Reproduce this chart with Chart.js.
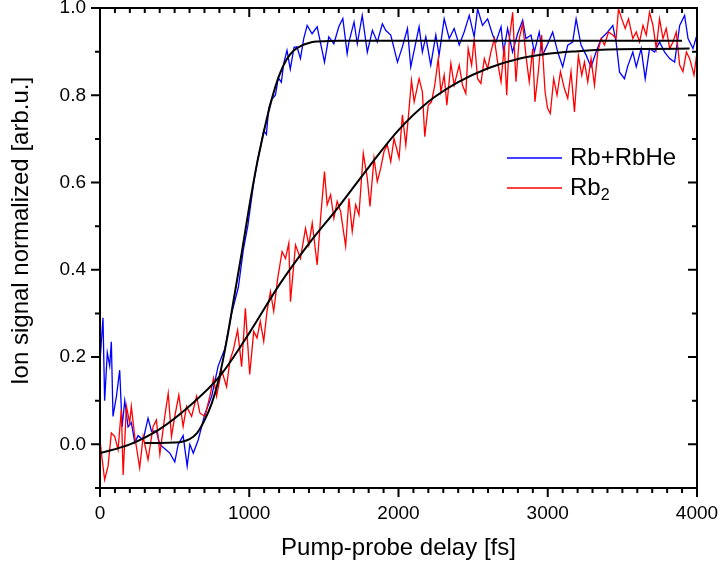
<!DOCTYPE html>
<html>
<head>
<meta charset="utf-8">
<script src="https://cdn.jsdelivr.net/npm/chart.js@4.4.1/dist/chart.umd.min.js"></script>
<style>
  html, body { margin: 0; padding: 0; background: #fff; overflow: hidden; }
  canvas { display: block; }
</style>
</head>
<body>
<canvas id="myChart" width="719" height="569"></canvas>
<script>
// Rb+RbHe measured signal (delay in fs, normalized ion signal)
const blueDelay = [0, 20, 31, 49, 65, 76, 87, 110, 132, 148, 166, 188, 210, 233, 255, 289, 322, 345, 378, 401,
  434, 468, 501, 524, 557, 584, 602, 625, 658, 703, 748, 792, 837, 882, 927, 960, 990, 1010, 1030, 1055,
  1075, 1097, 1115, 1130, 1150, 1175, 1195, 1215, 1231, 1253, 1275, 1300, 1320, 1343, 1365, 1388, 1421, 1455, 1488, 1504,
  1533, 1567, 1600, 1627, 1656, 1668, 1702, 1724, 1757, 1791, 1825, 1858, 1892, 1914, 1948, 1993, 2026, 2060, 2082, 2105,
  2138, 2160, 2183, 2216, 2250, 2272, 2306, 2340, 2373, 2407, 2440, 2474, 2507, 2530, 2563, 2597, 2631, 2653, 2687, 2704,
  2731, 2764, 2798, 2832, 2854, 2888, 2910, 2943, 2966, 3000, 3033, 3067, 3100, 3134, 3167, 3190, 3223, 3257, 3290, 3324,
  3358, 3402, 3436, 3458, 3481, 3514, 3537, 3570, 3593, 3626, 3653, 3682, 3716, 3749, 3783, 3817, 3850, 3884, 3917, 3940,
  3973, 3996];
const blueSignal = [0.19, 0.29, 0.10, 0.21, 0.18, 0.235, 0.064, 0.11, 0.17, 0.04, 0.10, 0.04, 0.05, 0.004, 0.02, 0.01, 0.06, 0.03, 0.03, 0.0,
  -0.01, -0.02, -0.04, 0.0, 0.02, -0.05, 0.0, -0.02, 0.01, 0.07, 0.11, 0.18, 0.22, 0.30, 0.36, 0.445, 0.50, 0.55, 0.60, 0.65,
  0.68, 0.72, 0.71, 0.77, 0.79, 0.80, 0.84, 0.83, 0.873, 0.903, 0.86, 0.91, 0.911, 0.884, 0.93, 0.96, 0.941, 0.957, 0.903, 0.876,
  0.934, 0.918, 0.957, 0.976, 0.895, 0.922, 0.968, 0.918, 0.983, 0.899, 0.949, 0.922, 0.964, 0.949, 0.938, 0.876, 0.911, 0.953, 0.865, 0.903,
  0.957, 0.899, 0.934, 0.869, 0.938, 0.892, 0.975, 0.93, 0.953, 0.915, 0.945, 0.983, 0.934, 0.998, 0.96, 0.975, 0.938, 0.922, 0.957, 0.899,
  0.953, 0.899, 0.941, 0.972, 0.93, 0.938, 0.899, 0.945, 0.892, 0.918, 0.945, 0.899, 0.865, 0.915, 0.922, 0.975, 0.915, 0.892, 0.865, 0.899,
  0.93, 0.945, 0.96, 0.922, 0.853, 0.838, 0.868, 0.899, 0.865, 0.907, 0.838, 0.907, 0.899, 0.922, 0.899, 0.884, 0.876, 0.96, 0.983, 0.93,
  0.907, 0.934];

// Rb2 measured signal
const redDelay = [0, 13, 31, 54, 76, 99, 121, 143, 155, 177, 199, 210, 233, 266, 289, 322, 356, 378, 401, 434,
  457, 479, 501, 528, 557, 580, 614, 647, 669, 703, 736, 761, 781, 815, 848, 871, 893, 922, 949, 974,
  1003, 1030, 1052, 1074, 1097, 1119, 1142, 1164, 1191, 1220, 1243, 1265, 1276, 1310, 1343, 1377, 1399, 1422, 1455, 1478,
  1504, 1522, 1545, 1567, 1589, 1612, 1646, 1668, 1690, 1713, 1735, 1764, 1791, 1809, 1836, 1858, 1881, 1903, 1925, 1948,
  1970, 2004, 2026, 2049, 2071, 2087, 2105, 2138, 2160, 2176, 2199, 2221, 2243, 2266, 2284, 2306, 2324, 2351, 2373, 2407,
  2429, 2451, 2467, 2490, 2507, 2530, 2552, 2575, 2597, 2619, 2642, 2664, 2687, 2709, 2725, 2743, 2765, 2787, 2809, 2832,
  2854, 2876, 2899, 2914, 2937, 2959, 2982, 2999, 3017, 3040, 3062, 3085, 3111, 3134, 3156, 3179, 3205, 3228, 3246, 3268,
  3290, 3313, 3335, 3358, 3380, 3407, 3436, 3458, 3474, 3496, 3519, 3541, 3570, 3593, 3615, 3638, 3660, 3682, 3705, 3727,
  3749, 3772, 3794, 3817, 3839, 3861, 3884, 3906, 3929, 3951, 3980, 4000];
const redSignal = [0.01, -0.03, -0.081, -0.05, 0.026, 0.018, -0.012, 0.08, -0.07, 0.087, 0.049, 0.087, 0.018, -0.054, 0.018, -0.035, 0.041, 0.056, -0.023, 0.064,
  0.117, 0.018, 0.064, 0.113, 0.041, 0.087, 0.064, 0.11, 0.072, 0.064, 0.11, 0.152, 0.11, 0.17, 0.132, 0.193, 0.216, 0.262, 0.178, 0.312,
  0.16, 0.259, 0.244, 0.282, 0.236, 0.305, 0.35, 0.305, 0.381, 0.442, 0.426, 0.461, 0.327, 0.457, 0.426, 0.495, 0.457, 0.507, 0.411, 0.518,
  0.625, 0.549, 0.572, 0.518, 0.557, 0.534, 0.454, 0.564, 0.488, 0.549, 0.526, 0.667, 0.61, 0.545, 0.656, 0.602, 0.633, 0.671, 0.686, 0.648,
  0.701, 0.656, 0.755, 0.686, 0.77, 0.834, 0.785, 0.838, 0.808, 0.705, 0.777, 0.785, 0.823, 0.884, 0.808, 0.846, 0.777, 0.873, 0.823, 0.869,
  0.823, 0.804, 0.907, 0.869, 0.93, 0.838, 0.827, 0.884, 0.861, 0.899, 0.93, 0.876, 0.831, 0.915, 0.80, 0.93, 0.99, 0.831, 0.93, 0.964,
  0.891, 0.831, 0.907, 0.785, 0.854, 0.938, 0.808, 0.77, 0.758, 0.838, 0.80, 0.854, 0.816, 0.793, 0.854, 0.762, 0.891, 0.846, 0.876, 0.831,
  0.884, 0.823, 0.899, 0.93, 0.915, 0.945, 0.938, 0.93, 0.998, 0.975, 0.953, 0.975, 0.93, 0.945, 0.922, 0.96, 0.938, 0.99, 0.96, 0.907,
  0.975, 0.93, 0.953, 0.907, 0.922, 0.945, 0.869, 0.854, 0.899, 0.884, 0.846, 0.899];

// fitted curves
const blueFitDelay = [300, 400, 500, 550, 600, 650, 700, 750, 800, 850, 900, 950, 1000, 1050, 1100, 1150, 1200, 1250, 1300, 1350,
  1400, 1450, 1500, 1600, 1800, 2200, 3000, 3900];
const blueFit = [0.003, 0.003, 0.004, 0.006, 0.012, 0.026, 0.055, 0.095, 0.155, 0.24, 0.34, 0.44, 0.545, 0.64, 0.72, 0.79, 0.845, 0.882, 0.903, 0.914,
  0.92, 0.923, 0.924, 0.925, 0.925, 0.925, 0.925, 0.925];
const redFitDelay = [0, 200, 400, 600, 800, 1000, 1200, 1400, 1600, 1800, 2000, 2200, 2400, 2600, 2800, 3000, 3200, 3400, 3700, 3950];
const redFit = [-0.02, 0.0, 0.035, 0.088, 0.155, 0.255, 0.365, 0.46, 0.545, 0.635, 0.72, 0.785, 0.83, 0.862, 0.883, 0.895, 0.901, 0.905, 0.906, 0.907];

const legendLabels = ['Rb+RbHe', 'Rb\u2082'];
const yTitle = 'Ion signal normalized [arb.u.]';
const xTitle = 'Pump-probe delay [fs]';
const fontFamily = '"Liberation Sans", Arial, sans-serif';

function toPoints(xs, ys) {
    return xs.map((d, i) => ({x: d, y: ys[i]}));
}

// axis frame with mirrored ticks (minor every 100 fs / 0.1)
const frameTicks = {
    id: 'frameTicks',
    afterDraw(chart) {
        const {ctx, chartArea: a, scales: {x, y}} = chart;
        ctx.save();
        ctx.strokeStyle = '#000';
        ctx.lineWidth = 2;
        ctx.strokeRect(a.left, a.top, a.right - a.left, a.bottom - a.top);
        ctx.beginPath();
        for (let v = 0; v <= 4000; v += 100) {
            const px = x.getPixelForValue(v);
            const len = v % 1000 === 0 ? 9 : 5;
            ctx.moveTo(px, a.bottom); ctx.lineTo(px, a.bottom + len);
            ctx.moveTo(px, a.top); ctx.lineTo(px, a.top + len);
        }
        for (let i = -1; i <= 10; i++) {
            const py = y.getPixelForValue(i / 10);
            const len = i % 2 === 0 ? 9 : 5;
            ctx.moveTo(a.left, py); ctx.lineTo(a.left - len, py);
            ctx.moveTo(a.right, py); ctx.lineTo(a.right - len, py);
        }
        ctx.stroke();

        // y title, sitting a bit above the axis centre like the original
        ctx.fillStyle = '#000';
        ctx.font = '24px ' + fontFamily;
        ctx.textAlign = 'center';
        ctx.textBaseline = 'middle';
        ctx.translate(21, (a.top + a.bottom) / 2 - 17);
        ctx.rotate(-Math.PI / 2);
        ctx.fillText(yTitle, 0, 0);
        ctx.restore();
    }
};

// legend inside the plot, with a real subscript for Rb2
const insideLegend = {
    id: 'insideLegend',
    afterDraw(chart) {
        const {ctx, chartArea: a} = chart;
        const colors = ['#0000ff', '#ff0000'];
        const x0 = a.right - 190;
        ctx.save();
        legendLabels.forEach((label, i) => {
            const yy = a.top + 150 + i * 30;
            ctx.strokeStyle = colors[i];
            ctx.lineWidth = 1.3;
            ctx.beginPath();
            ctx.moveTo(x0, yy);
            ctx.lineTo(x0 + 55, yy);
            ctx.stroke();
            ctx.fillStyle = '#000';
            ctx.textBaseline = 'middle';
            ctx.textAlign = 'left';
            let tx = x0 + 63;
            for (const ch of label) {
                if (ch === '\u2082') {
                    ctx.font = '16px ' + fontFamily;
                    ctx.fillText('2', tx, yy + 8);
                    tx += ctx.measureText('2').width;
                } else {
                    ctx.font = '24px ' + fontFamily;
                    ctx.fillText(ch, tx, yy);
                    tx += ctx.measureText(ch).width;
                }
            }
        });
        ctx.restore();
    }
};

function myLoadFunction() {
    const ctx = document.getElementById('myChart').getContext('2d');
    const myChartConfig = {
        type: 'line',
        data: {
            datasets: [
                {
                    label: 'Rb+RbHe fit',
                    data: toPoints(blueFitDelay, blueFit),
                    borderColor: '#000',
                    borderWidth: 2,
                    cubicInterpolationMode: 'monotone',
                    pointRadius: 0,
                    order: 0
                },
                {
                    label: 'Rb2 fit',
                    data: toPoints(redFitDelay, redFit),
                    borderColor: '#000',
                    borderWidth: 2,
                    cubicInterpolationMode: 'monotone',
                    pointRadius: 0,
                    order: 0
                },
                {
                    label: legendLabels[1],
                    data: toPoints(redDelay, redSignal),
                    borderColor: '#ff0000',
                    borderWidth: 1.3,
                    pointRadius: 0,
                    order: 1
                },
                {
                    label: legendLabels[0],
                    data: toPoints(blueDelay, blueSignal),
                    borderColor: '#0000ff',
                    borderWidth: 1.3,
                    pointRadius: 0,
                    order: 2
                }
            ]
        },
        options: {
            responsive: false,
            animation: false,
            devicePixelRatio: 1,
            layout: {padding: {top: 8, right: 22, left: 0, bottom: 0}},
            plugins: {legend: {display: false}, tooltip: {enabled: false}},
            scales: {
                x: {
                    type: 'linear',
                    min: 0,
                    max: 4000,
                    grid: {display: false, drawTicks: false},
                    border: {display: false},
                    ticks: {
                        stepSize: 1000,
                        padding: 14,
                        color: '#000',
                        maxRotation: 0,
                        font: {family: fontFamily, size: 19},
                        callback: (v) => String(v)
                    },
                    title: {
                        display: true,
                        text: xTitle,
                        color: '#000',
                        padding: {top: 0, bottom: 6},
                        font: {family: fontFamily, size: 24}
                    },
                    afterFit(scale) {
                        scale.height = 81;
                        scale.paddingLeft = 0;
                        scale.paddingRight = 0;
                    }
                },
                y: {
                    type: 'linear',
                    min: -0.1,
                    max: 1.0,
                    grid: {display: false, drawTicks: false},
                    border: {display: false},
                    ticks: {
                        stepSize: 0.1,
                        padding: 14,
                        color: '#000',
                        font: {family: fontFamily, size: 19},
                        callback: (v) => Math.round(v * 10) % 2 === 0 ? v.toFixed(1) : ''
                    },
                    title: {display: false},
                    afterFit(scale) {
                        scale.width = 100;
                        scale.paddingTop = 0;
                        scale.paddingBottom = 0;
                    }
                }
            }
        },
        plugins: [frameTicks, insideLegend]
    };
    const myChart = new Chart(ctx, myChartConfig);
}

document.addEventListener('DOMContentLoaded', myLoadFunction);
</script>
</body>
</html>
